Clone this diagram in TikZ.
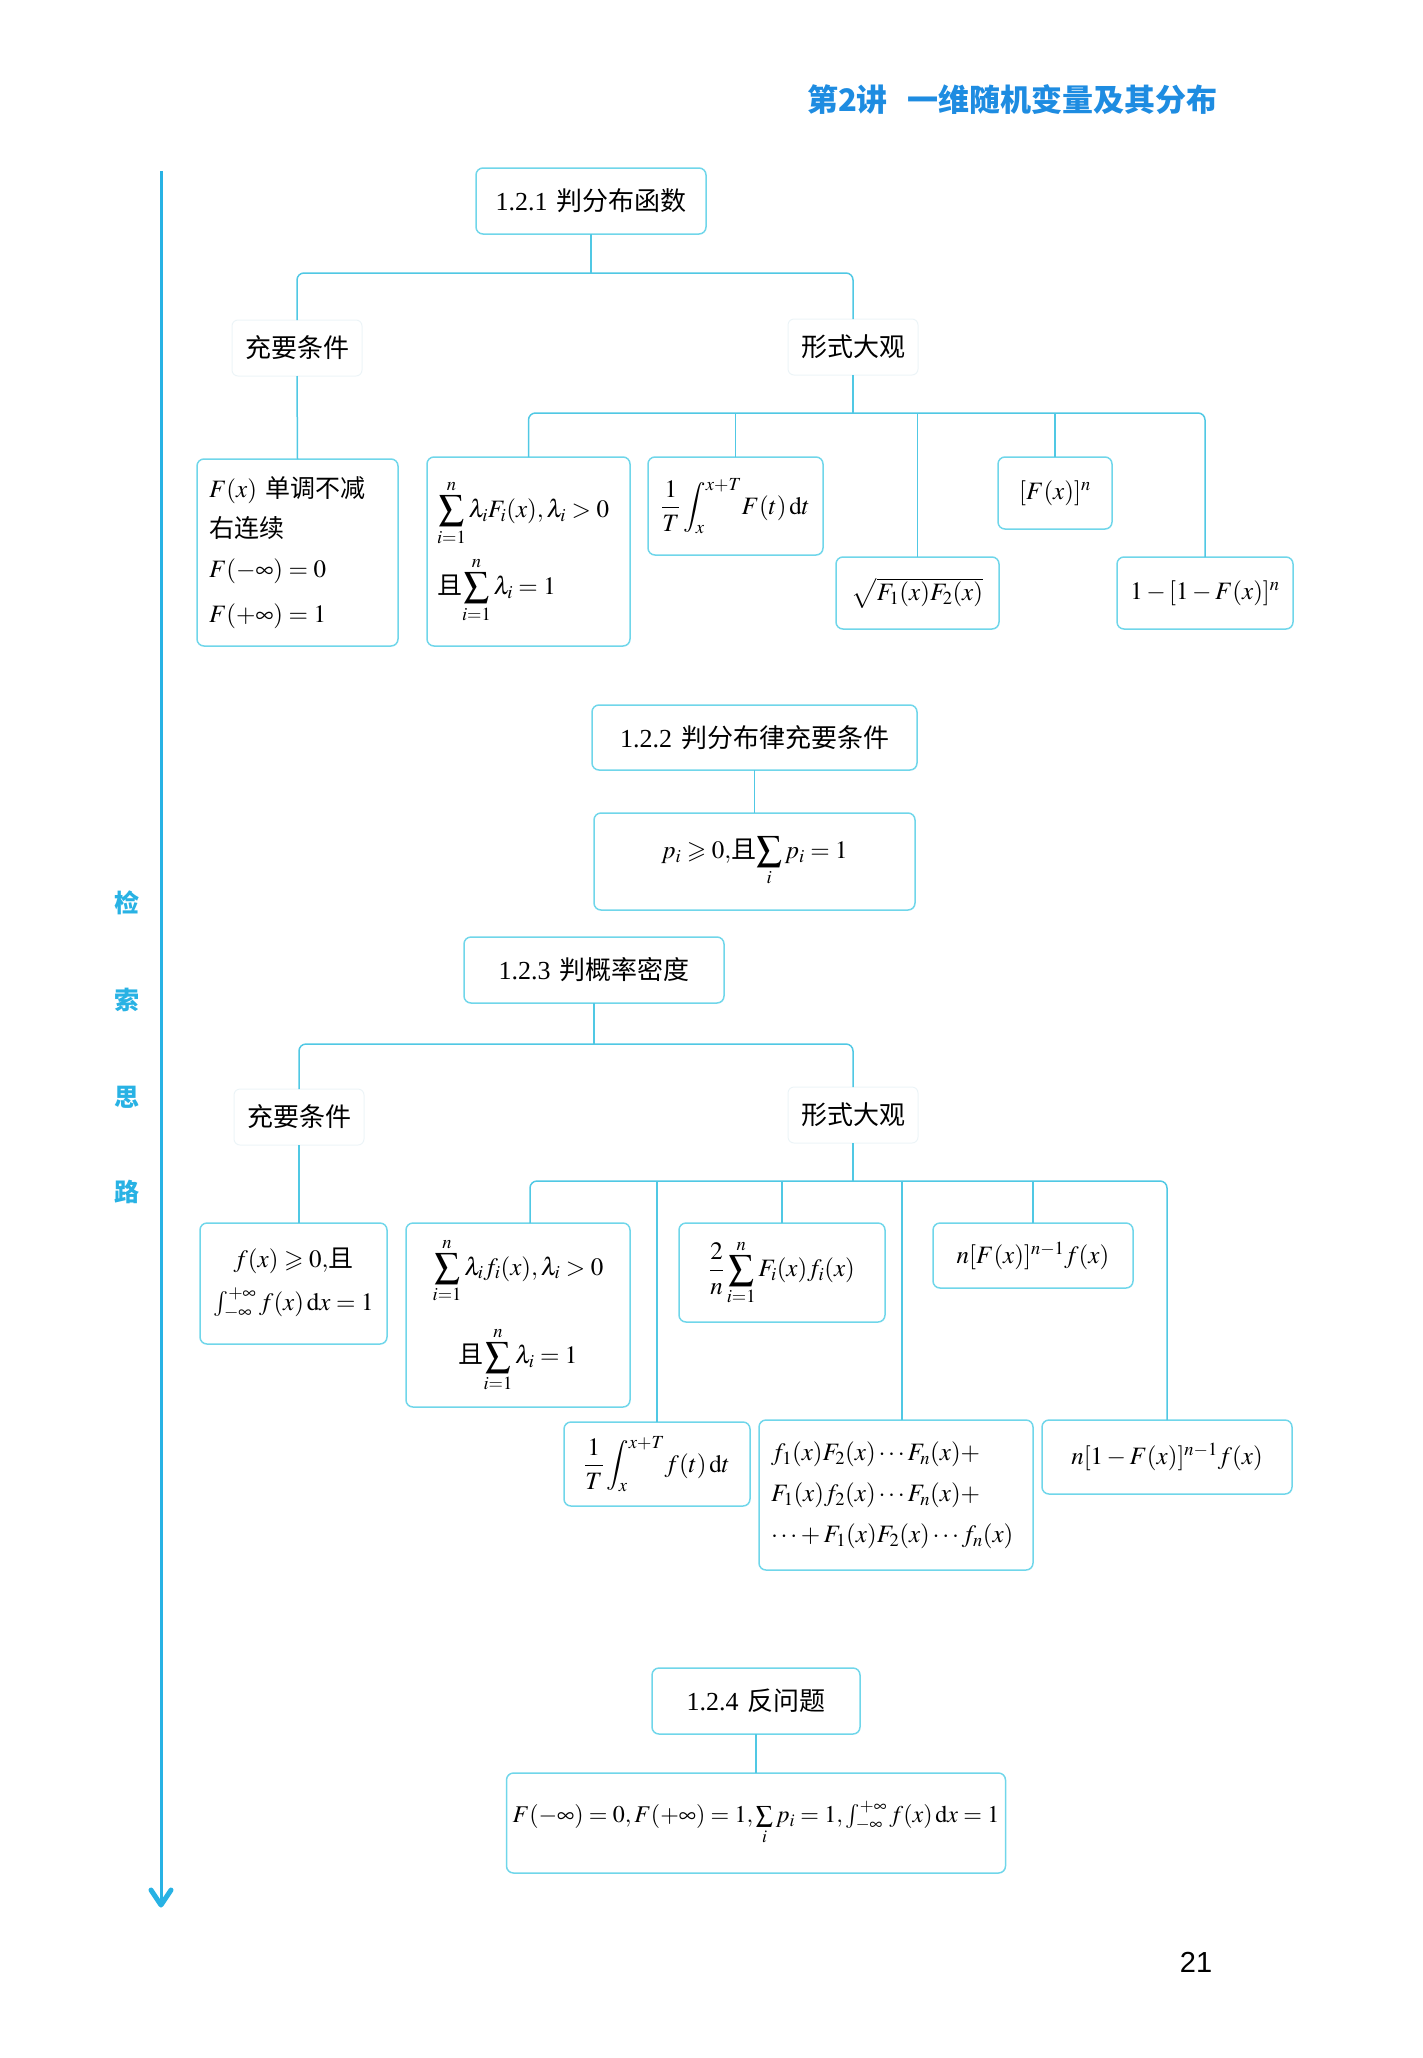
\documentclass[tikz,border=0pt]{standalone}
\usepackage{amsmath}
\usepackage{mathptmx}
\usepackage{amssymb}
\usepackage[no-math]{fontspec}
\setmainfont{Liberation Serif}
\newfontfamily\cjk{Noto Sans CJK SC}
\newfontfamily\pnfont{Liberation Sans}
\newcommand\zhtxt[1]{{\cjk\fontsize{25}{30}\selectfont #1}}
\usetikzlibrary{calc}
\definecolor{boxc}{RGB}{112,214,234}
\definecolor{connc}{RGB}{80,200,228}
\definecolor{leftc}{RGB}{40,178,228}
\definecolor{headc}{RGB}{30,140,225}
\definecolor{faintc}{RGB}{236,244,247}
\begin{document}
\begin{tikzpicture}[x=1pt,y=-1pt,
  every node/.style={inner sep=0pt, outer sep=0pt},
  box/.style={draw=boxc, line width=1.5pt, rounded corners=7pt, align=center,
    font=\fontsize{25}{31}\selectfont},
  ttl/.style={box, font=\fontsize{26}{31}\selectfont},
  lbl/.style={draw=faintc, line width=1pt, rounded corners=6pt, align=center,
    minimum width=130pt, minimum height=56pt, font=\fontsize{26}{30}\selectfont\cjk},
  conn/.style={draw=connc, line width=1.5pt, rounded corners=7pt},
  vch/.style={text=leftc, font=\fontsize{25}{25}\selectfont\cjk\bfseries}
]
\useasboundingbox (0,0) rectangle (1423,2058);

% header
\node[anchor=west, text=headc, font=\fontsize{31}{31}\selectfont\cjk\bfseries] (head) at (807,100) {第2讲\hspace{20pt}一维随机变量及其分布};

% left guide line
\coordinate (ltop) at (161,171);
\coordinate (lbot) at (161,1905);
\draw[leftc, line width=3pt] (ltop) -- (lbot);
\draw[leftc, line width=5pt, line cap=round, line join=round] ($(lbot)+(-10,-15)$) -- (lbot) -- ($(lbot)+(10,-15)$);
\node[vch] (v1) at (127,903) {检};
\node[vch] (v2) at (127,1000) {索};
\node[vch] (v3) at (127,1097) {思};
\node[vch] (v4) at (127,1192) {路};

% page number
\node[font=\fontsize{29}{29}\selectfont\pnfont] (pn) at (1196,1962) {21};

% ===== Section 1.2.1 =====
\node[ttl, minimum width=230pt, minimum height=66pt] (t1) at (591,201) {1.2.1\hspace{9pt}{\cjk 判分布函数}};
\node[lbl] (c1) at (297,348) {充要条件};
\node[lbl] (x1) at (853,347) {形式大观};
\node[box, minimum height=187pt, text width=177pt, inner xsep=12pt, align=left] (b11) at (297.5,552.5)
  {$F(x)$ \zhtxt{单调不减}\\[9pt]\zhtxt{右连续}\\[9pt]$F(-\infty)=0$\\[14pt]$F(+\infty)=1$};
\node[box, minimum height=189pt, text width=183pt, inner xsep=10pt, align=left] (b12) at (528.5,551.5)
  {\raisebox{4pt}{$\displaystyle\sum_{i=1}^{n}\lambda_iF_i(x),\lambda_i>0$}\\[10pt]\zhtxt{且}$\displaystyle\sum_{i=1}^{n}\lambda_i=1$};
\node[box, minimum width=175pt, minimum height=98pt] (b13) at (735.5,506)
  {$\dfrac{1}{T}\displaystyle\int_x^{x+T}\!F(t)\,\mathrm{d}t$};
\node[box, minimum width=163pt, minimum height=72pt] (b14) at (917.5,593)
  {$\sqrt{F_1(x)F_2(x)}$};
\node[box, minimum width=114pt, minimum height=72pt] (b15) at (1055,493)
  {$[F(x)]^n$};
\node[box, minimum width=176pt, minimum height=72pt] (b16) at (1205,593)
  {$1-[1-F(x)]^n$};

\coordinate (bar1) at (591,273);
\coordinate (bar2) at (853,413);
\draw[conn] (t1.south) -- (t1.south |- bar1);
\draw[conn] (c1.north) |- (bar1) -| (x1.north);
\draw[conn] (c1.south) -- (b11.north);
\draw[conn] (x1.south) -- (x1.south |- bar2);
\draw[conn] (b12.north) |- (bar2) -| (b16.north);
\draw[conn] (b13.north) -- (b13.north |- bar2);
\draw[conn] (b14.north) -- (b14.north |- bar2);
\draw[conn] (b15.north) -- (b15.north |- bar2);

% ===== Section 1.2.2 =====
\node[ttl, minimum width=325pt, minimum height=65pt] (t2) at (754.5,737.5) {1.2.2\hspace{9pt}{\cjk 判分布律充要条件}};
\node[box, minimum width=321pt, minimum height=97pt] (p2) at (754.5,861.5)
  {$p_i\geqslant 0,$\zhtxt{且}$\displaystyle\sum_{i}p_i=1$};
\draw[conn] (t2.south) -- (p2.north);

% ===== Section 1.2.3 =====
\node[ttl, minimum width=260pt, minimum height=66pt] (t3) at (594,970) {1.2.3\hspace{9pt}{\cjk 判概率密度}};
\node[lbl] (c3) at (299,1117) {充要条件};
\node[lbl] (x3) at (853,1115) {形式大观};
\node[box, minimum width=187pt, minimum height=121pt] (b31) at (293.5,1283.5)
  {$f(x)\geqslant 0,$\zhtxt{且}\\[12pt]$\int_{-\infty}^{+\infty}f(x)\,\mathrm{d}x=1$};
\node[box, minimum width=224pt, minimum height=184pt] (b32) at (518,1315)
  {$\displaystyle\sum_{i=1}^{n}\lambda_if_i(x),\lambda_i>0$\\[22pt]\zhtxt{且}$\displaystyle\sum_{i=1}^{n}\lambda_i=1$};
\node[box, minimum width=186pt, minimum height=84pt] (b33) at (657,1464)
  {$\dfrac{1}{T}\displaystyle\int_x^{x+T}\!f(t)\,\mathrm{d}t$};
\node[box, minimum width=206pt, minimum height=99pt] (b34) at (782,1272.5)
  {$\dfrac{2}{n}\displaystyle\sum_{i=1}^{n}F_i(x)f_i(x)$};
\node[box, minimum height=150pt, text width=250pt, inner xsep=12pt, align=left] (b35) at (896,1495)
  {$f_1(x)F_2(x)\cdots F_n(x)+$\\[10pt]$F_1(x)f_2(x)\cdots F_n(x)+$\\[10pt]$\cdots+F_1(x)F_2(x)\cdots f_n(x)$};
\node[box, minimum width=200pt, minimum height=65pt] (b36) at (1033,1255.5)
  {$n[F(x)]^{n-1}f(x)$};
\node[box, minimum width=250pt, minimum height=74pt] (b37) at (1167,1457)
  {$n[1-F(x)]^{n-1}f(x)$};

\coordinate (bar3) at (594,1044);
\coordinate (bar4) at (853,1181);
\draw[conn] (t3.south) -- (t3.south |- bar3);
\draw[conn] (c3.north) |- (bar3) -| (x3.north);
\draw[conn] (c3.south) -- (c3.south |- b31.north);
\draw[conn] (x3.south) -- (x3.south |- bar4);
\draw[conn] ([xshift=12pt]b32.north) |- (bar4) -| (b37.north);
\draw[conn] (b33.north) -- (b33.north |- bar4);
\draw[conn] (b34.north) -- (b34.north |- bar4);
\draw[conn] ([xshift=6pt]b35.north) -- ([xshift=6pt]b35.north |- bar4);
\draw[conn] (b36.north) -- (b36.north |- bar4);

% ===== Section 1.2.4 =====
\node[ttl, minimum width=208pt, minimum height=66pt] (t4) at (756,1701) {1.2.4\hspace{9pt}{\cjk 反问题}};
\node[box, minimum width=499pt, minimum height=100pt, font=\fontsize{24}{30}\selectfont] (p4) at (756,1823)
  {$F(-\infty)=0,F(+\infty)=1,\sum\limits_{i}p_i=1,\int_{-\infty}^{+\infty}f(x)\,\mathrm{d}x=1$};
\draw[conn] (t4.south) -- (p4.north);
\end{tikzpicture}
\end{document}
